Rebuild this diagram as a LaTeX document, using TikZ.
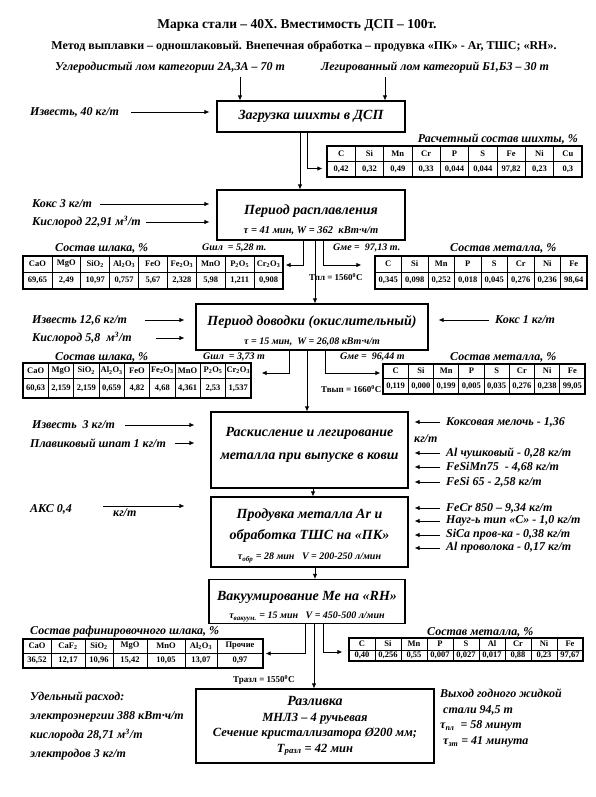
\documentclass[tikz,border=0pt]{standalone}
\usepackage{fontspec}
\setmainfont{Liberation Serif}
\usetikzlibrary{arrows.meta}

\tikzset{
  stage/.style={draw, line width=1.1pt, align=center, inner sep=2pt, font=\bfseries\itshape\fontsize{14}{19}\selectfont},
  arr/.style={line width=0.8pt, -{Latex[length=5pt, width=4.5pt]}},
  lbl/.style={anchor=west, inner sep=0pt, font=\bfseries\itshape\fontsize{12}{14}\selectfont},
  tablbl/.style={anchor=west, inner sep=0pt, font=\bfseries\itshape\fontsize{12}{14}\selectfont},
  note/.style={anchor=west, inner sep=0pt, font=\bfseries\itshape\fontsize{10}{12}\selectfont},
  temp/.style={anchor=west, inner sep=0pt, font=\bfseries\fontsize{9}{11}\selectfont},
  cell/.style={draw, line width=0.6pt, inner sep=0pt, font=\bfseries\fontsize{8.5}{10}\selectfont},
  tabframe/.style={draw, line width=1.3pt, inner sep=0pt},
}

\begin{document}
\begin{tikzpicture}[x=1pt, y=-1pt]
  \useasboundingbox (0,0) rectangle (595,797);

  % Header
  \node[font=\bfseries\fontsize{13.5}{16}\selectfont] (title) at (297,25) {Марка стали – 40Х. Вместимость ДСП – 100т.};
  \node[font=\bfseries\fontsize{12}{14}\selectfont] (method) at (304,47) {Метод выплавки – одношлаковый. Внепечная обработка – продувка «ПК» - Ar, ТШС; «RH».};
  \node[lbl, anchor=center] (scrapC) at (170,67) {Углеродистый лом категории 2А,3А – 70 т};
  \node[lbl, anchor=center] (scrapA) at (435,67) {Легированный лом категорий Б1,Б3 – 30 т};

  % Charging
  \node[stage, minimum width=188pt, minimum height=31pt] (load) at (311,116.5) {Загрузка шихты в ДСП};
  \coordinate (loadC) at ([xshift=-71pt]load.north);
  \coordinate (loadA) at ([xshift=74pt]load.north);
  \draw[arr, shorten <=4pt] (loadC |- scrapC.south) -- (loadC);
  \draw[arr, shorten <=4pt] (loadA |- scrapA.south) -- (loadA);
  \node[lbl] (lime1) at (30,112) {Известь, 40 кг/т};
  \draw[arr, shorten <=12pt, shorten >=7pt] (lime1.east) -- (lime1.east -| load.west);

  % Charge composition
  \def\cw{28.33}
  \foreach \h/\v [count=\i] in {C/{0,42}, Si/{0,32}, Mn/{0,49}, Cr/{0,33}, P/{0,044}, S/{0,044}, Fe/{97,82}, Ni/{0,23}, Cu/{0,3}} {
    \node[cell, minimum width=\cw pt, minimum height=15pt] (mix h\i) at ({327+(\i-0.5)*\cw},153.5) {\h};
    \node[cell, minimum width=\cw pt, minimum height=16pt] (mix v\i) at ({327+(\i-0.5)*\cw},169) {\v};
  }
  \node[tabframe, minimum width=255pt, minimum height=31pt] (mix) at (454.5,161.5) {};
  \node[tablbl, anchor=east] (mixlbl) at (578,139) {Расчетный состав шихты, \%};
  \draw[arr, shorten >=4pt] ([xshift=-4pt]load.south) |- ([yshift=-7pt]mix.west);

  % Melting
  \node[stage, minimum width=188pt, minimum height=50pt] (melt) at (311,215)
    {\rule{0pt}{19pt}Период расплавления\\\fontsize{10.5}{12}\selectfont τ = 41 мин, W = 362~~кВт·ч/т};
  \draw[arr] ([xshift=-11pt]load.south) -- ([xshift=-11pt]melt.north);
  \node[lbl] (coke1) at (32,204) {Кокс 3 кг/т};
  \node[lbl] (oxy1) at (32,222) {Кислород 22,91 м\textsuperscript{3}/т};
  \draw[arr, shorten <=8pt, shorten >=7pt] (coke1.east) -- (coke1.east -| melt.west);
  \draw[arr, shorten <=5pt, shorten >=7pt] (oxy1.east) -- (oxy1.east -| melt.west);

  % Slag after melting
  \def\cw{28.89}
  \foreach \h/\v [count=\i] in {CaO/{69,65}, MgO/{2,49}, SiO\textsubscript{2}/{10,97}, Al\textsubscript{2}O\textsubscript{3}/{0,757}, FeO/{5,67}, Fe\textsubscript{2}O\textsubscript{3}/{2,328}, MnO/{5,98}, P\textsubscript{2}O\textsubscript{5}/{1,211}, Cr\textsubscript{2}O\textsubscript{3}/{0,908}} {
    \node[cell, minimum width=\cw pt, minimum height=16pt] (slagA h\i) at ({23+(\i-0.5)*\cw},264) {\h};
    \node[cell, minimum width=\cw pt, minimum height=17pt] (slagA v\i) at ({23+(\i-0.5)*\cw},280.5) {\v};
  }
  \node[tabframe, minimum width=260pt, minimum height=33pt] (slagA) at (153,272.5) {};
  \node[tablbl] (slagAlbl) at (55,248) {Состав шлака, \%};
  \node[note] (slagAmass) at (202,248) {Gшл~ = 5,28 т.};

  % Metal after melting
  \def\cw{26.5}
  \foreach \h/\v [count=\i] in {C/{0,345}, Si/{0,098}, Mn/{0,252}, P/{0,018}, S/{0,045}, Cr/{0,276}, Ni/{0,236}, Fe/{98,64}} {
    \node[cell, minimum width=\cw pt, minimum height=16pt] (metA h\i) at ({375+(\i-0.5)*\cw},264) {\h};
    \node[cell, minimum width=\cw pt, minimum height=17pt] (metA v\i) at ({375+(\i-0.5)*\cw},280.5) {\v};
  }
  \node[tabframe, minimum width=212pt, minimum height=33pt] (metA) at (481,272.5) {};
  \node[note] (metAmass) at (333,248) {Gме = ~97,13 т.};
  \node[tablbl] (metAlbl) at (450,248) {Состав металла, \%};
  \node[temp] (tmelt) at (309,277) {Тпл = 1560\textsuperscript{0}C};
  \draw[arr, shorten >=2pt] ([xshift=-8pt]melt.south) |- ([yshift=7.5pt]slagA.east);
  \draw[arr, shorten >=13pt] ([xshift=12pt]melt.south) |- ([yshift=7.5pt]metA.west);

  % Refining
  \node[stage, minimum width=232pt, minimum height=46pt] (refine) at (312,327)
    {\rule{0pt}{17pt}Период доводки (окислительный)\\\fontsize{10}{12}\selectfont τ = 15 мин,~~W = 26,08 кВт·ч/т};
  \draw[arr] ([xshift=4pt]melt.south) -- ([xshift=3pt]refine.north);
  \node[lbl] (coke2) at (495,320) {Кокс 1 кг/т};
  \draw[arr, shorten <=6pt, shorten >=10pt] (coke2.west) -- (coke2.west -| refine.east);
  \node[lbl] (lime2) at (32,320) {Известь 12,6 кг/т};
  \node[lbl] (oxy2) at (32,338) {Кислород 5,8~~м\textsuperscript{3}/т};
  \draw[arr, shorten <=18pt, shorten >=11pt] (lime2.east) -- (lime2.east -| refine.west);
  \draw[arr, shorten <=24pt, shorten >=11pt] (oxy2.east) -- (oxy2.east -| refine.west);

  % Slag after refining
  \def\cw{25.33}
  \foreach \h/\v [count=\i] in {CaO/{60,63}, MgO/{2,159}, SiO\textsubscript{2}/{2,159}, Al\textsubscript{2}O\textsubscript{3}/{0,659}, FeO/{4,82}, Fe\textsubscript{2}O\textsubscript{3}/{4,68}, MnO/{4,361}, P\textsubscript{2}O\textsubscript{5}/{2,53}, Cr\textsubscript{2}O\textsubscript{3}/{1,537}} {
    \node[cell, minimum width=\cw pt, minimum height=15pt] (slagB h\i) at ({23+(\i-0.5)*\cw},370.5) {\h};
    \node[cell, minimum width=\cw pt, minimum height=20pt] (slagB v\i) at ({23+(\i-0.5)*\cw},388) {\v};
  }
  \node[tabframe, minimum width=228pt, minimum height=35pt] (slagB) at (137,380.5) {};
  \node[tablbl] (slagBlbl) at (55,357) {Состав шлака, \%};
  \node[note] (slagBmass) at (203,357) {Gшл~ = 3,73 т};

  % Metal after refining
  \def\cw{25.25}
  \foreach \h/\v [count=\i] in {C/{0,119}, Si/{0,000}, Mn/{0,199}, P/{0,005}, S/{0,035}, Cr/{0,276}, Ni/{0,238}, Fe/{99,05}} {
    \node[cell, minimum width=\cw pt, minimum height=14pt] (metB h\i) at ({383+(\i-0.5)*\cw},371) {\h};
    \node[cell, minimum width=\cw pt, minimum height=16pt] (metB v\i) at ({383+(\i-0.5)*\cw},386) {\v};
  }
  \node[tabframe, minimum width=202pt, minimum height=30pt] (metB) at (484,379) {};
  \node[note] (metBmass) at (340,357) {Gме = ~96,44 т};
  \node[tablbl] (metBlbl) at (450,357) {Состав металла, \%};
  \node[temp] (ttap) at (321,389) {Твып = 1660\textsuperscript{0}C};
  \draw[arr, shorten >=10pt] ([xshift=-23pt]refine.south) |- ([yshift=7.5pt]slagB.east);
  \draw[arr, shorten >=2pt] ([xshift=13pt]refine.south) |- ([yshift=6pt]metB.west);

  % Deoxidation and alloying
  \node[stage, minimum width=197pt, minimum height=76pt, font=\bfseries\itshape\fontsize{14}{23}\selectfont] (tap) at (309.5,450)
    {Раскисление и легирование\\металла при выпуске в ковш\rule[-13pt]{0pt}{13pt}};
  \draw[arr] ([xshift=-5pt]refine.south) -- ([xshift=-2.5pt]tap.north);
  \node[lbl] (lime3) at (32,425) {Известь~ 3 кг/т};
  \node[lbl] (spar) at (30,443) {Плавиковый шпат 1 кг/т};
  \draw[arr, shorten <=10pt, shorten >=16pt] (lime3.east) -- (lime3.east -| tap.west);
  \draw[arr, shorten <=9pt, shorten >=16pt] (spar.east) -- (spar.east -| tap.west);
  \node[lbl] (cokefu) at (414,439) {кг/т};
  \foreach \n/\y/\t in {cokef/422/{Коксовая мелочь - 1,36}, alpig/453/{Al чушковый - 0,28 кг/т}, fesimn/467/{FeSiMn75~~- 4,68 кг/т}, fesi/482/{FeSi 65 - 2,58 кг/т}} {
    \node[lbl] (\n) at (446,\y) {\t};
    \draw[arr, shorten <=6pt, shorten >=6pt] (\n.west) -- (\n.west -| tap.east);
  }

  % Argon and slag treatment
  \node[stage, minimum width=197pt, minimum height=70pt, font=\bfseries\itshape\fontsize{14}{21}\selectfont] (argon) at (309.5,532)
    {\rule{0pt}{17pt}Продувка металла Ar и\\обработка ТШС на «ПК»\\[-1pt]\fontsize{10}{12}\selectfont τ\textsubscript{обр} = 28 мин~~~V = 200-250 л/мин};
  \draw[arr] ([xshift=3.5pt]tap.south) -- ([xshift=3.5pt]argon.north);
  \node[lbl] (aks) at (30,509) {АКС 0,4};
  \node[lbl] (aksu) at (113,513) {кг/т};
  \coordinate (aksout) at ([xshift=-10pt, yshift=7pt]aksu.west);
  \draw[arr, shorten >=26pt] (aksout) -- (aksout -| argon.west);
  \foreach \n/\y/\t in {fecr/508/{FeCr 850 – 9,34 кг/т}, carb/521/{Науг-ь тип «С» - 1,0 кг/т}, sica/535/{SiCa пров-ка - 0,38 кг/т}, alw/548/{Al проволока - 0,17 кг/т}} {
    \node[lbl] (\n) at (446,\y) {\t};
    \draw[arr, shorten <=6pt, shorten >=6pt] (\n.west) -- (\n.west -| argon.east);
  }

  % Vacuum degassing
  \node[stage, minimum width=196pt, minimum height=41pt, font=\bfseries\itshape\fontsize{14}{18}\selectfont] (vac) at (307,601.5)
    {\rule{0pt}{19pt}Вакуумирование Ме на «RH»\\\fontsize{10}{12}\selectfont τ\textsubscript{вакуум.} = 15 мин~~~V = 450-500 л/мин};
  \draw[arr] ([xshift=5.5pt]argon.south) -- ([xshift=8pt]vac.north);

  % Refining slag
  \foreach \xa/\xb/\h/\v [count=\i] in {23/51/CaO/{36,52}, 51/85/CaF\textsubscript{2}/{12,17}, 85/113/SiO\textsubscript{2}/{10,96}, 113/147/MgO/{15,42}, 147/185/MnO/{10,05}, 185/217/Al\textsubscript{2}O\textsubscript{3}/{13,07}, 217/263/Прочие/{0,97}} {
    \node[cell, minimum width={(\xb-\xa)*1pt}, minimum height=14pt] (slagC h\i) at ({(\xa+\xb)/2},646) {\h};
    \node[cell, minimum width={(\xb-\xa)*1pt}, minimum height=15pt] (slagC v\i) at ({(\xa+\xb)/2},660.5) {\v};
  }
  \node[tabframe, minimum width=240pt, minimum height=29pt] (slagC) at (143,653.5) {};
  \node[tablbl] (slagClbl) at (30,632) {Состав рафинировочного шлака, \%};

  % Final metal
  \def\cw{26}
  \foreach \h/\v [count=\i] in {C/{0,40}, Si/{0,256}, Mn/{0,55}, P/{0,007}, S/{0,027}, Al/{0,017}, Cr/{0,88}, Ni/{0,23}, Fe/{97,67}} {
    \node[cell, minimum width=\cw pt, minimum height=12pt] (metC h\i) at ({349+(\i-0.5)*\cw},644) {\h};
    \node[cell, minimum width=\cw pt, minimum height=11pt] (metC v\i) at ({349+(\i-0.5)*\cw},655.5) {\v};
  }
  \node[tabframe, minimum width=234pt, minimum height=23pt] (metC) at (466,649.5) {};
  \node[tablbl] (metClbl) at (427,632) {Состав металла, \%};
  \draw[arr, shorten >=2pt] ([xshift=-2pt]vac.south) |- (slagC.east);
  \draw[arr, shorten >=6pt] ([xshift=16pt]vac.south) |- ([yshift=-2.5pt]metC.west);

  % Casting
  \node[stage, minimum width=238pt, minimum height=74pt, font=\bfseries\itshape\fontsize{14}{15.5}\selectfont] (cast) at (315,726)
    {Разливка\\\fontsize{12.5}{15}\selectfont МНЛЗ – 4 ручьевая\\\fontsize{12.5}{15}\selectfont Сечение кристаллизатора Ø200 мм;\\\fontsize{12.5}{15}\selectfont T\textsubscript{разл} = 42 мин};
  \draw[arr] ([xshift=7pt]vac.south) -- ([xshift=-1pt]cast.north);
  \node[temp] (tcast) at (233,680) {Тразл = 1550\textsuperscript{0}C};
  \node[lbl, anchor=north west, align=left, font=\bfseries\itshape\fontsize{12}{19}\selectfont] (usage) at (30,692)
    {Удельный расход:\\электроэнергии 388 кВт·ч/т\\кислорода 28,71 м\textsuperscript{3}/т\\электродов 3 кг/т};
  \node[lbl, anchor=north west, align=left, font=\bfseries\itshape\fontsize{12}{15.5}\selectfont] (yield) at (440,689)
    {Выход годного жидкой\\\hspace{3pt}стали 94,5 т\\τ\textsubscript{пл}~ = 58 минут\\\hspace{3pt}τ\textsubscript{зт} = 41 минута};

\end{tikzpicture}
\end{document}
